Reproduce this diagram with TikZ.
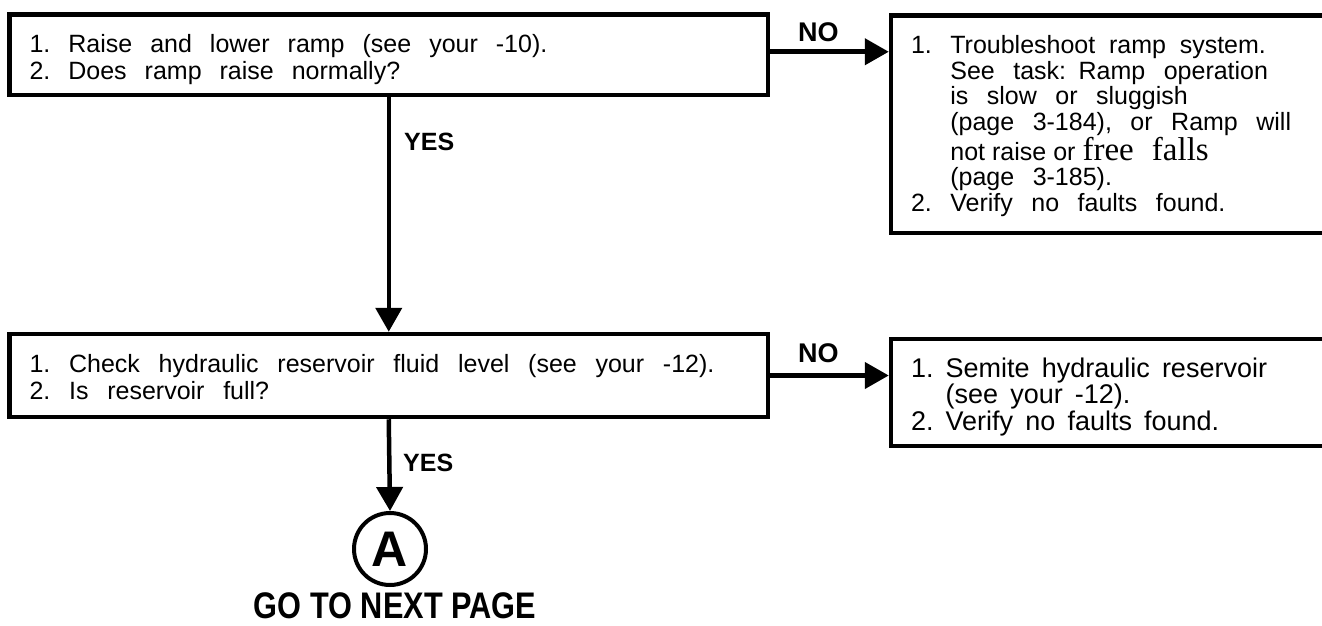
\documentclass[tikz,border=0pt]{standalone}
\usepackage{fontspec}
\setmainfont{Liberation Sans}
\newfontfamily\serifword{Liberation Serif}
\newfontfamily\narrowsans[FakeStretch=0.83]{Liberation Sans}
\usetikzlibrary{arrows.meta,positioning}

\newcommand\wordgap[1]{\spaceskip=#1em\relax}

\tikzset{
  stepbox/.style={draw,line width=4.5pt,anchor=north west,inner xsep=20pt,inner ysep=0pt,
    text height=38pt,align=left,font=\fontsize{25}{27}\selectfont},
  flow/.style={line width=4.5pt,-{Triangle[length=24pt,width=26pt]}},
  answer/.style={inner sep=0pt,anchor=base west,font=\fontsize{25}{25}\selectfont\bfseries}
}

\begin{document}
\begin{tikzpicture}[x=1pt,y=-1pt]
  \useasboundingbox (0,0) rectangle (1322,626);
  \node[stepbox,text width=718.5pt,text depth=42.5pt] (raise) at (7.25,12.25)
    {\wordgap{.72}1.\ Raise and lower ramp (see your -10).\\2.\ Does ramp raise normally?};
  \node[stepbox,text width=718.5pt,text depth=45pt] (check) at (7.25,331.75)
    {\wordgap{.75}1.\ Check hydraulic reservoir fluid level (see your -12).\\2.\ Is reservoir full?};
  \node[stepbox,text width=440pt,text depth=179.5pt,
    font=\fontsize{25}{25.7}\selectfont] (trouble) at (888.75,13.25)
    {\wordgap{.74}1.\ {\wordgap{.55}Troubleshoot ramp system.}\\
     \phantom{1.}\ See task: Ramp operation\\
     \phantom{1.}\ is slow or sluggish\\
     \phantom{1.}\ (page 3-184), or Ramp will\\
     \phantom{1.}\ {\wordgap{.28}not raise or }{\serifword\fontsize{33}{25.7}\selectfont\wordgap{.55}free falls}\\
     \phantom{1.}\ (page 3-185).\\
     2.\ Verify no faults found.};
  \node[stepbox,text width=440pt,text depth=69pt,
    font=\fontsize{27}{26.5}\selectfont] (semite) at (888.75,336.75)
    {\wordgap{.45}1.\ Semite hydraulic reservoir\\
     \phantom{1.}\ (see your -12).\\
     2.\ Verify no faults found.};
  \node[draw,circle,line width=4pt,minimum size=72pt,inner sep=0pt,
    font=\fontsize{50}{50}\selectfont\bfseries] (markA) at (390,549) {A};
  \node[inner sep=0pt,anchor=base,font=\narrowsans\bfseries\fontsize{37}{37}\selectfont]
    (nextpage) at (395,618) {GO TO NEXT PAGE};
  \draw[flow] (raise.south) -- (check.north);
  \draw[flow] ([yshift=3pt]raise.east) -- ([yshift=3pt]raise.east -| trouble.west);
  \draw[flow] (check.east) -- (check.east -| semite.west);
  \draw[flow] (check.south) -- (markA.north);
  \node[answer] (yesA) at (404,150) {YES};
  \node[answer,font=\fontsize{27}{27}\selectfont\bfseries] (noA) at (798,42) {NO};
  \node[answer,font=\fontsize{27}{27}\selectfont\bfseries] (noB) at (798,362) {NO};
  \node[answer] (yesB) at (403,471) {YES};
\end{tikzpicture}
\end{document}
